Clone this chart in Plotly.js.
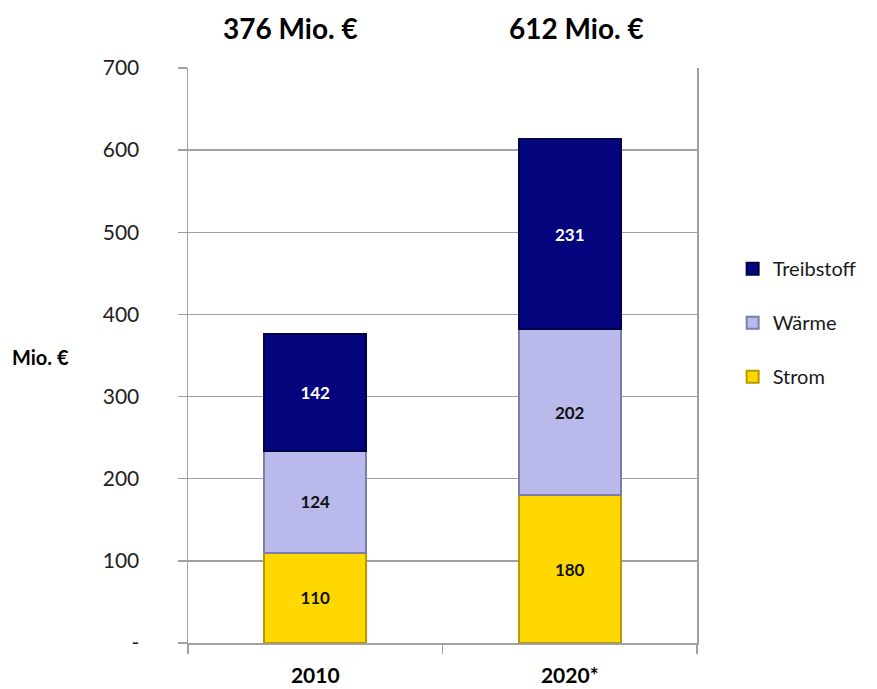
<!DOCTYPE html>
<html>
<head>
<meta charset="utf-8">
<script src="https://cdn.plot.ly/plotly-3.0.1.min.js"></script>
<style>html,body{margin:0;padding:0;background:#fff;}#chart{width:877px;height:689px;}</style>
</head>
<body>
<div id="chart"></div>
<script>
const categories = ["2010", "2020*"];
const strom = [110, 180];
const waerme = [124, 202];
const treibstoff = [142, 231];
const totals = ["376 Mio. €", "612 Mio. €"];
const yTickVals = [0, 100, 200, 300, 400, 500, 600, 700];
const yTickText = ["-", "100", "200", "300", "400", "500", "600", "700"];

const FONT = "Lato, 'Open Sans', sans-serif";

function barTrace(name, vals, color, lineColor, textColor, group, rank) {
  return {
    type: "bar", name: name, x: categories, y: vals,
    text: vals.map(String), textposition: "inside", insidetextanchor: "middle",
    textfont: {family: FONT, size: 17, color: textColor, weight: "bold"},
    marker: {color: color, line: {color: lineColor, width: 2}},
    width: 0.4, legendgroup: group, legendrank: rank, hoverinfo: "skip"
  };
}

const data = [
  barTrace("Strom", strom, "#fed800", "#b89a00", "#111", "g1", 3),
  barTrace("Wärme", waerme, "#b9b9ec", "#7d7daa", "#111", "g2", 2),
  barTrace("Treibstoff", treibstoff, "#05057e", "#02024a", "#ffffff", "g3", 1)
];

const titleX = [0.202, 0.764];
const annotations = categories.map((c, i) => ({
  x: titleX[i], y: 1, xref: "paper", yref: "paper", yshift: 40,
  text: "<b>" + totals[i] + "</b>", showarrow: false,
  font: {family: FONT, size: 28, color: "#000"}, xanchor: "center", yanchor: "middle"
}));
annotations.push({
  x: 0, xref: "paper", xanchor: "left", xshift: -178,
  y: (643 - 357) / 575 * 700, yref: "y", yanchor: "middle",
  text: "<b>Mio. €</b>", showarrow: false,
  font: {family: FONT, size: 20, color: "#000"}
});

const layout = {
  width: 877, height: 689,
  margin: {l: 188, r: 180, t: 68, b: 46, autoexpand: false},
  paper_bgcolor: "#fff", plot_bgcolor: "#fff",
  barmode: "stack",
  showlegend: true,
  legend: {
    x: 1.07, y: 0.685, xanchor: "left", yanchor: "top",
    traceorder: "grouped", tracegroupgap: 25,
    font: {family: FONT, size: 20, color: "#1a1a1a"},
    bgcolor: "rgba(0,0,0,0)"
  },
  xaxis: {
    type: "category", showgrid: false, showline: true, linecolor: "#a0a0a0", linewidth: 1.5,
    ticks: "outside", tickson: "boundaries", ticklen: 9, tickcolor: "#a0a0a0", tickwidth: 1.5,
    tickfont: {family: FONT, size: 21, color: "#000", weight: "bold"},
    ticklabelstandoff: 13, fixedrange: true, tickangle: 0
  },
  yaxis: {
    range: [0, 700], tickvals: yTickVals, ticktext: yTickText,
    showgrid: true, gridcolor: "#a0a0a0", gridwidth: 1.5,
    showline: true, mirror: true, linecolor: "#a0a0a0", linewidth: 1.5,
    ticks: "outside", ticklen: 9, tickcolor: "#a0a0a0", tickwidth: 1.5,
    tickfont: {family: FONT, size: 21, color: "#222"},
    ticklabelstandoff: 34, zeroline: false, fixedrange: true
  },
  annotations: annotations,
  font: {family: FONT}
};

Plotly.newPlot("chart", data, layout, {displayModeBar: false, staticPlot: true});
</script>
</body>
</html>
